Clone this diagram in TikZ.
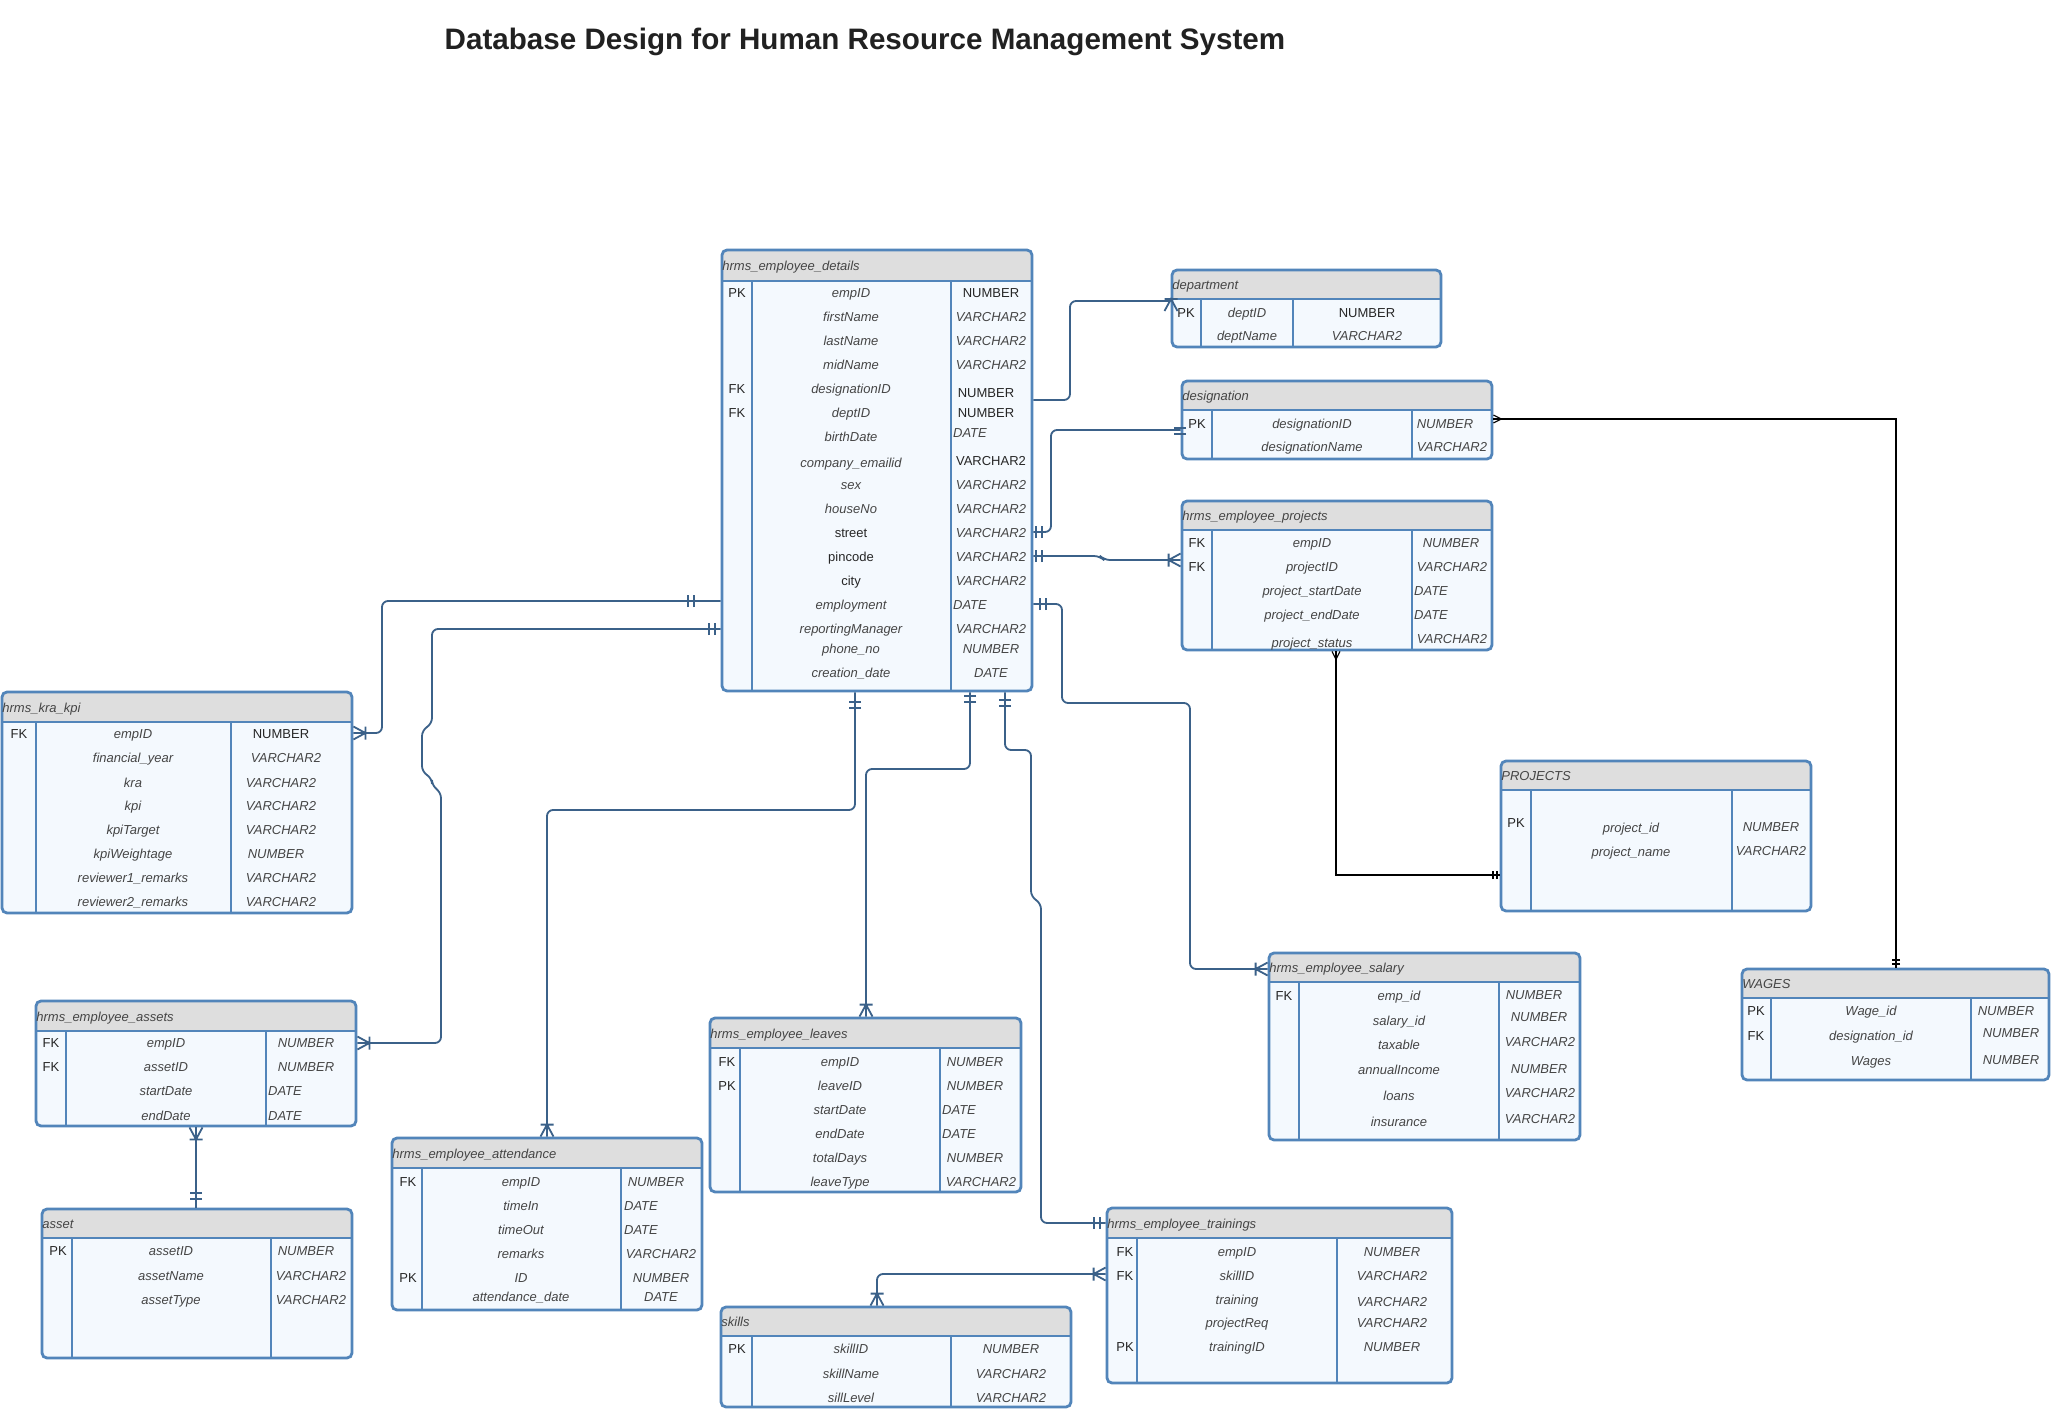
\documentclass[tikz,border=0pt]{standalone}
\usepackage{fontspec}
\setmainfont{Liberation Sans}
\usetikzlibrary{fit}
\definecolor{tblue}{HTML}{5285BA}
\definecolor{cblue}{HTML}{3B6189}
\definecolor{hgray}{HTML}{DEDEDE}
\definecolor{bfill}{HTML}{F4F9FE}
\definecolor{ntext}{HTML}{454545}
\tikzset{
 tbl/.style={draw=tblue, line width=1.4pt, rounded corners=2.5pt, inner sep=0pt},
 tdiv/.style={draw=tblue, line width=1.2pt},
 ttl/.style={font=\fontsize{6.5}{7}\selectfont\itshape, text=ntext, inner sep=0pt, anchor=mid west},
 keyt/.style={font=\fontsize{6.5}{7}\selectfont, text=black!85, inner sep=0pt, anchor=mid},
 namet/.style={font=\fontsize{6.5}{7}\selectfont\itshape, text=ntext, inner sep=0pt, anchor=mid},
 typet/.style={font=\fontsize{6.5}{7}\selectfont\itshape, text=ntext, inner sep=0pt, anchor=mid},
 conn/.style={draw=cblue, line width=0.9pt, rounded corners=3pt},
 bconn/.style={draw=black, line width=0.55pt},
 mk/.style={draw=cblue, line width=0.9pt},
 bmk/.style={draw=black, line width=0.55pt},
}
\newcommand\U[1]{{\upshape\color{black!85}#1}}
\newcommand\ertable[9]{%
 \begin{scope}
 \clip[rounded corners=2.5pt] (#2,#3) rectangle (#4,#5);
 \fill[bfill] (#2,#3) rectangle (#4,#5);
 \fill[hgray] (#2,#3) rectangle (#4,#6);
 \end{scope}
 \draw[tdiv] (#2,#6) -- (#4,#6) (#7,#6) -- (#7,#5) (#8,#6) -- (#8,#5);
 \node[tbl, fit={(#2,#3) (#4,#5)}] (#1) {};
 \node[ttl] (#1-title) at (#2,{(#3+#6)/2}) {#9};
}
\newcommand\ertrows[4]{%
 \foreach \yy/\kk/\nm/\ty/\tx/\tp [count=\i] in {#4} {
 \node[keyt] (#1-k\i) at (#2,\yy) {\kk};
 \node[namet] (#1-n\i) at (#3,\yy) {\nm};
 \node[typet] (#1-t\i) at (\tx,\ty) {\tp};
 }}
\newcommand\crowm[3][mk]{\begin{scope}[shift={#2},rotate=#3]\draw[#1] (0,6.5) -- (-12,0) -- (0,-6.5) (-12,6.5) -- (-12,-6.5);\end{scope}}
\newcommand\dbarm[3][mk]{\begin{scope}[shift={#2},rotate=#3]\draw[#1] (-3,6) -- (-3,-6) (3,6) -- (3,-6);\end{scope}}
\newcommand\scrow[2]{\begin{scope}[shift={#1},rotate=#2]\draw[bmk] (0,4) -- (-8,0) -- (0,-4);\end{scope}}
\newcommand\sdbar[2]{\begin{scope}[shift={#1},rotate=#2]\draw[bmk] (-2,4) -- (-2,-4) (2,4) -- (2,-4);\end{scope}}
\begin{document}
\begin{tikzpicture}[x=0.5pt, y=-0.5pt]
\useasboundingbox (0,0) rectangle (2053,1414);
\fill[white] (0,0) rectangle (2053,1414);
\node[font=\fontsize{14.8}{16}\selectfont\bfseries, text=black!87, inner sep=0pt, anchor=mid] (title) at (865,44) {Database Design for Human Resource Management System};

% ---------- tables ----------
\ertable{emp}{722}{250}{1032}{691}{281}{752}{951}{hrms\_employee\_details}
\ertrows{emp}{737}{851}{
292/PK/empID/292/991/\U{NUMBER},
316//firstName/316/991/VARCHAR2,
340//lastName/340/991/VARCHAR2,
364//midName/364/991/VARCHAR2,
388/FK/designationID/392/986/\U{NUMBER},
412/FK/deptID/412/986/\U{NUMBER},
436//birthDate/432/970/DATE,
462//company\_emailid/460/991/\U{VARCHAR2},
484//sex/484/991/VARCHAR2,
508//houseNo/508/991/VARCHAR2,
532//\U{street}/532/991/VARCHAR2,
556//\U{pincode}/556/991/VARCHAR2,
580//\U{city}/580/991/VARCHAR2,
604//employment/604/970/DATE,
628//reportingManager/628/991/VARCHAR2,
648//phone\_no/648/991/NUMBER,
672//creation\_date/672/991/DATE}

\ertable{dept}{1172}{270}{1441}{347}{299}{1201}{1293}{department}
\ertrows{dept}{1186}{1247}{312/PK/deptID/312/1367/\U{NUMBER}, 335//deptName/335/1367/VARCHAR2}

\ertable{desig}{1182}{381}{1492}{459}{410}{1212}{1412}{designation}
\ertrows{desig}{1197}{1312}{423/PK/designationID/423/1445/NUMBER, 446//designationName/446/1452/VARCHAR2}

\ertable{proj}{1182}{501}{1492}{650}{530}{1212}{1412}{hrms\_employee\_projects}
\ertrows{proj}{1197}{1312}{
542/FK/empID/542/1451/NUMBER,
566/FK/projectID/566/1452/VARCHAR2,
590//project\_startDate/590/1431/DATE,
614//project\_endDate/614/1431/DATE,
642//project\_status/638/1452/VARCHAR2}

\ertable{kra}{2}{692}{352}{913}{722}{36}{231}{hrms\_kra\_kpi}
\ertrows{kra}{19}{133}{
733/FK/empID/733/281/\U{NUMBER},
757//financial\_year/757/286/VARCHAR2,
782//kra/782/281/VARCHAR2,
805//kpi/805/281/VARCHAR2,
829//kpiTarget/829/281/VARCHAR2,
853//kpiWeightage/853/276/NUMBER,
877//reviewer1\_remarks/877/281/VARCHAR2,
901//reviewer2\_remarks/901/281/VARCHAR2}

\ertable{assets}{36}{1001}{356}{1126}{1031}{66}{266}{hrms\_employee\_assets}
\ertrows{assets}{51}{166}{
1042/FK/empID/1042/306/NUMBER,
1066/FK/assetID/1066/306/NUMBER,
1090//startDate/1090/285/DATE,
1115//endDate/1115/285/DATE}

\ertable{asset}{42}{1209}{352}{1358}{1238}{72}{271}{asset}
\ertrows{asset}{58}{171}{
1250/PK/assetID/1250/306/NUMBER,
1275//assetName/1275/311/VARCHAR2,
1299//assetType/1299/311/VARCHAR2}

\ertable{att}{392}{1138}{702}{1310}{1168}{422}{621}{hrms\_employee\_attendance}
\ertrows{att}{408}{521}{
1181/FK/empID/1181/656/NUMBER,
1205//timeIn/1205/641/DATE,
1229//timeOut/1229/641/DATE,
1253//remarks/1253/661/VARCHAR2,
1277/PK/ID/1277/661/NUMBER,
1296//attendance\_date/1296/661/DATE}

\ertable{leaves}{710}{1018}{1021}{1192}{1048}{740}{940}{hrms\_employee\_leaves}
\ertrows{leaves}{727}{840}{
1061/FK/empID/1061/975/NUMBER,
1085/PK/leaveID/1085/975/NUMBER,
1109//startDate/1109/959/DATE,
1133//endDate/1133/959/DATE,
1157//totalDays/1157/975/NUMBER,
1181//leaveType/1181/981/VARCHAR2}

\ertable{skills}{721}{1307}{1071}{1407}{1336}{752}{951}{skills}
\ertrows{skills}{737}{851}{
1348/PK/skillID/1348/1011/NUMBER,
1373//skillName/1373/1011/VARCHAR2,
1397//sillLevel/1397/1011/VARCHAR2}

\ertable{train}{1107}{1208}{1452}{1383}{1238}{1137}{1337}{hrms\_employee\_trainings}
\ertrows{train}{1125}{1237}{
1251/FK/empID/1251/1392/NUMBER,
1275/FK/skillID/1275/1392/VARCHAR2,
1299//training/1301/1392/VARCHAR2,
1322//projectReq/1322/1392/VARCHAR2,
1346/PK/trainingID/1346/1392/NUMBER}

\ertable{salary}{1269}{953}{1580}{1140}{982}{1299}{1499}{hrms\_employee\_salary}
\ertrows{salary}{1284}{1399}{
995/FK/emp\_id/994/1534/NUMBER,
1020//salary\_id/1016/1539/NUMBER,
1044//taxable/1041/1540/VARCHAR2,
1069//annualIncome/1068/1539/NUMBER,
1095//loans/1092/1540/VARCHAR2,
1121//insurance/1118/1540/VARCHAR2}

\ertable{PROJ}{1501}{761}{1811}{911}{790}{1531}{1732}{PROJECTS}
\node[keyt] (PROJ-pk) at (1516,822) {PK};
\ertrows{PROJ}{1516}{1631}{
827//project\_id/826/1771/NUMBER,
851//project\_name/850/1771/VARCHAR2}

\ertable{wages}{1742}{969}{2049}{1080}{998}{1771}{1971}{WAGES}
\ertrows{wages}{1756}{1871}{
1010/PK/Wage\_id/1010/2006/NUMBER,
1035/FK/designation\_id/1032/2011/NUMBER,
1060//Wages/1059/2011/NUMBER}

% ---------- connectors ----------
\draw[conn] (emp.east |- 0,400) -- (1070,400) -- (1070,301) -- (dept.west |- 0,301);
\draw[conn] (emp.east |- 0,532) -- (1051,532) -- (1051,430) -- (desig.west |- 0,430);
\draw[conn] (emp.east |- 0,556) -- (1100,556) -- (1104,560) -- (proj.west |- 0,560);
\draw[conn] (emp.east |- 0,604) -- (1062,604) -- (1062,703) -- (1190,703) -- (1190,969) -- (salary.west |- 0,969);
\draw[conn] (emp.west |- 0,601) -- (382,601) -- (382,733) -- (kra.east |- 0,733);
\draw[conn] (emp.west |- 0,629) -- (432,629) -- (432,724) -- (422,730) -- (422,772) -- (432,778) -- (432,786) -- (441,792) -- (441,1043) -- (assets.east |- 0,1043);
\draw[conn] (855,0 |- emp.south) -- (855,810) -- (547,810) -- (547,0 |- att.north);
\draw[conn] (970,0 |- emp.south) -- (970,769) -- (866,769) -- (866,0 |- leaves.north);
\draw[conn] (1005,0 |- emp.south) -- (1005,750) -- (1031,750) -- (1031,897) -- (1041,903) -- (1041,1223) -- (train.west |- 0,1223);
\draw[conn] (train.west |- 0,1274) -- (877,1274) -- (877,0 |- skills.north);
\draw[conn] (196,0 |- assets.south) -- (196,0 |- asset.north);
\draw[bconn] (desig.east |- 0,419) -- (1896,419) -- (1896,0 |- wages.north);
\draw[bconn] (1336,0 |- proj.south) -- (1336,875) -- (PROJ.west |- 0,875);

% ---------- cardinality marks ----------
\crowm{(kra.east |- 0,733)}{180}
\crowm{(assets.east |- 0,1043)}{180}
\crowm{(proj.west |- 0,560)}{0}
\crowm{(salary.west |- 0,969)}{0}
\crowm{(547,0 |- att.north)}{-90}
\crowm{(866,0 |- leaves.north)}{-90}
\crowm{(196,0 |- assets.south)}{90}
\crowm{(877,0 |- skills.north)}{-90}
\crowm{(train.west |- 0,1274)}{0}
\crowm{(1171,311)}{-90}
\dbarm{(691,601)}{0}
\dbarm{(712,629)}{0}
\dbarm{(1039,532)}{0}
\dbarm{(1039,556)}{0}
\dbarm{(1043,604)}{0}
\dbarm{(855,705)}{90}
\dbarm{(970,699)}{90}
\dbarm{(1005,703)}{90}
\dbarm{(1097,1223)}{0}
\dbarm{(196,1196)}{90}
\dbarm{(1180,431)}{90}
\scrow{(desig.east |- 0,419)}{180}
\scrow{(1336,0 |- proj.south)}{90}
\sdbar{(1896,962)}{90}
\sdbar{(1495,875)}{0}
\end{tikzpicture}
\end{document}
